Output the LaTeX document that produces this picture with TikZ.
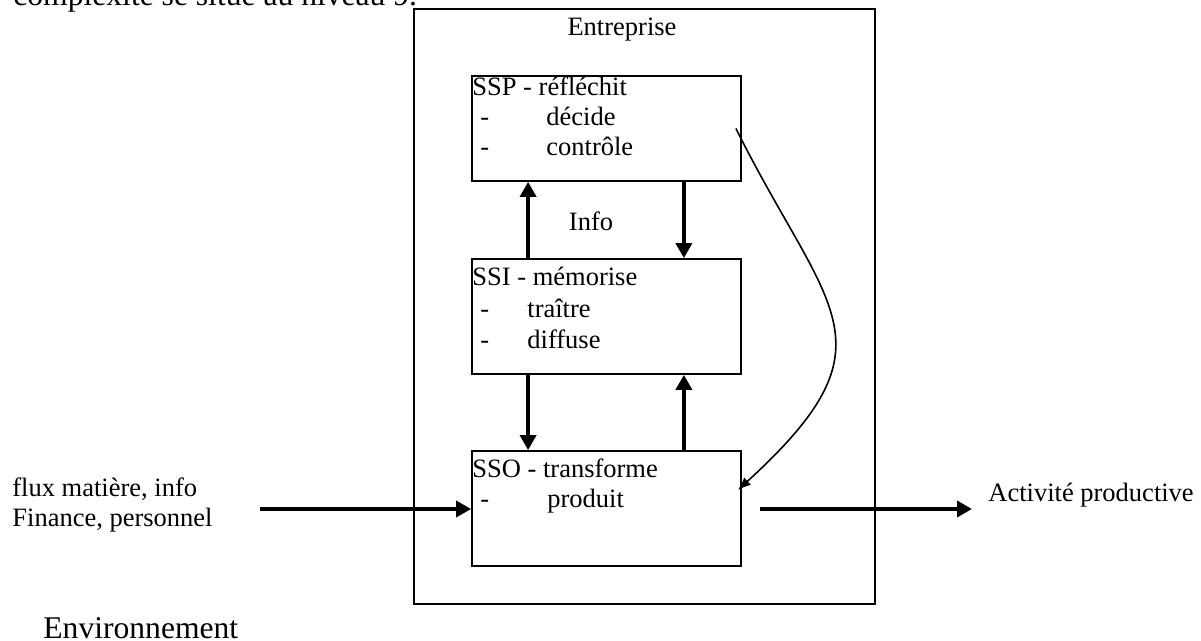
\documentclass[tikz,border=0pt]{standalone}
\usepackage{fontspec}
\setmainfont{Liberation Serif}
\usetikzlibrary{arrows.meta}

\tikzset{
  texte/.style={font=\fontsize{13.25}{15}\selectfont, inner sep=0pt, anchor=base west},
  grand/.style={font=\fontsize{15.8}{19}\selectfont, inner sep=0pt, anchor=base west},
  boite/.style={draw, line width=0.9pt, minimum width=134.5pt, inner sep=0pt},
  fleche/.style={line width=1.8pt, -{Triangle[length=7.5pt,width=8pt]}},
  courbe/.style={line width=0.8pt, -{Latex[length=6.5pt,width=5pt]}}
}

\begin{document}
\begin{tikzpicture}[x=0.5pt, y=-0.5pt]
        \useasboundingbox (0,0) rectangle (1201,641);
        % Texte coupé en haut et légende en bas
        \node[grand] (intro) at (13,6) {complexité se situe au niveau 9.};
        \node[grand] (environnement) at (43,639) {Environnement};

        % Cadre de l'entreprise et ses trois sous-systèmes
        \node[boite, minimum width=230.5pt, minimum height=297.5pt] (entreprise) at (644.5,306.5) {};
        \node[texte, anchor=base] (entreprise-titre) at (622,36) {Entreprise};
        \node[boite, minimum height=52.5pt] (ssp) at (606.5,128.5) {};
        \node[boite, minimum height=57.5pt] (ssi) at (606.5,316.5) {};
        \node[boite, minimum height=57.5pt] (sso) at (606.5,508.5) {};

        % Contenu des boites: titre, puis tiret/verbe
        \node[texte] (ssp-titre) at (472,96) {SSP - réfléchit};
        \foreach \y/\mot [count=\i] in {126/décide, 156/contrôle} {
            \node[texte] (ssp-tiret-\i) at (480,\y) {-};
            \node[texte] (ssp-mot-\i) at (546,\y) {\mot};
        }
        \node[texte] (ssi-titre) at (472,286) {SSI - mémorise};
        \foreach \y/\mot [count=\i] in {318/traître, 349/diffuse} {
            \node[texte] (ssi-tiret-\i) at (480,\y) {-};
            \node[texte] (ssi-mot-\i) at (527,\y) {\mot};
        }
        \node[texte] (sso-titre) at (472,478) {SSO - transforme};
        \node[texte] (sso-tiret-1) at (480,508) {-};
        \node[texte] (sso-mot-1) at (547,508) {produit};

        % Flèches entre les sous-systèmes
        \draw[fleche] ([xshift=28.5pt]ssi.north west) -- ([xshift=28.5pt]ssp.south west);
        \draw[fleche] ([xshift=-29pt]ssp.south east) -- ([xshift=-29pt]ssi.north east);
        \draw[fleche] ([xshift=28.5pt]ssi.south west) -- ([xshift=28.5pt]sso.north west);
        \draw[fleche] ([xshift=-29pt]sso.north east) -- ([xshift=-29pt]ssi.south east);
        \node[texte, anchor=center] (info) at (591,221) {Info};

        % Décision qui descend directement vers SSO
        \draw[courbe] ([xshift=-3pt]ssp.east) .. controls (828,313) and (900,342) .. ([xshift=-2pt,yshift=9.25pt]sso.east);

        % Entrées et sorties avec l'environnement
        \coordinate (entree) at (260,509);
        \coordinate (sortie) at (972,509);
        \draw[fleche] (entree) -- (entree -| sso.west);
        \draw[fleche] ([xshift=9pt]sso.east |- sortie) -- (sortie);
        \node[texte] (flux) at (12,497) {flux matière, info};
        \node[texte] (finance) at (12,527) {Finance, personnel};
        \node[texte] (activite) at (988,502) {Activité productive};
    \end{tikzpicture}
\end{document}
